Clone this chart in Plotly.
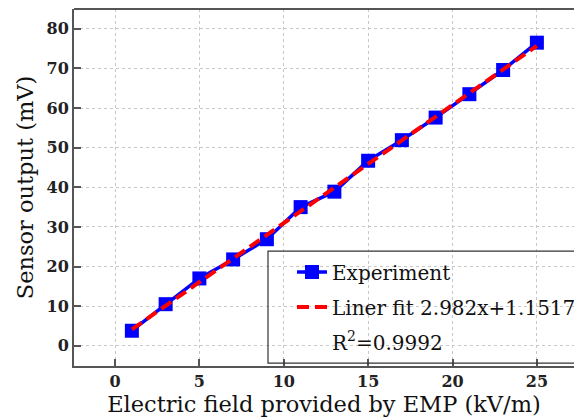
import plotly.graph_objects as go

# Measured sensor response versus applied field
field_kv_m = [1, 3, 5, 7, 9, 11, 13, 15, 17, 19, 21, 23, 25]
sensor_mv = [3.8, 10.5, 17.0, 21.8, 26.9, 35.0, 38.9, 46.7, 51.9, 57.6, 63.5, 69.6, 76.5]

# Linear fit coefficients
fit_slope = 2.982
fit_intercept = 1.1517
fit_x = [1, 25]
fit_y = [fit_slope * v + fit_intercept for v in fit_x]

x_ticks = [0, 5, 10, 15, 20, 25]
y_ticks = [0, 10, 20, 30, 40, 50, 60, 70, 80]

serif = "DejaVu Serif, Liberation Serif, serif"

fig = go.Figure()
fig.add_trace(go.Scatter(
    x=field_kv_m, y=sensor_mv, mode="lines+markers", name="Experiment",
    legendgroup="exp",
    line=dict(color="#0000ff", width=3.5),
    marker=dict(symbol="square", size=14, color="#0000ff"),
))
fig.add_trace(go.Scatter(
    x=fit_x, y=fit_y, mode="lines", name="Liner fit 2.982x+1.1517",
    legendgroup="fit",
    line=dict(color="#ff0000", width=4, dash="12px,6px"),
))
fig.add_trace(go.Scatter(
    x=[None], y=[None], mode="lines", name="R<sup>2</sup>=0.9992",
    legendgroup="r2",
    line=dict(color="rgba(0,0,0,0)", width=0),
))

axis_common = dict(
    showline=True, linecolor="#555555", linewidth=2,
    ticks="inside", ticklen=7, tickwidth=1.5, tickcolor="#555555",
    showgrid=True, gridcolor="#c8c8c8", gridwidth=1, griddash="dot",
    zeroline=False,
    tickfont=dict(family=serif, size=16, color="#222222", weight="bold"),
)

fig.update_layout(
    width=574, height=418,
    margin=dict(l=74, r=0, t=9, b=52, autoexpand=False),
    paper_bgcolor="white", plot_bgcolor="white",
    xaxis=dict(
        range=[-2.43, 27.2], tickvals=x_ticks,
        title=dict(text="Electric field provided by EMP (kV/m)",
                   font=dict(family=serif, size=22.5, color="#111111"), standoff=5),
        **axis_common,
    ),
    yaxis=dict(
        range=[-5.1, 85], tickvals=y_ticks,
        title=dict(text="Sensor output (mV)",
                   font=dict(family=serif, size=22.5, color="#111111"), standoff=7),
        **axis_common,
    ),
    legend=dict(
        x=0.436, y=0.318, xanchor="left", yanchor="top",
        bgcolor="rgba(0,0,0,0)", borderwidth=0,
        font=dict(family=serif, size=20, color="#111111"),
        traceorder="grouped", tracegroupgap=6,
    ),
    showlegend=True,
    shapes=[
        # top frame line
        dict(type="line", xref="paper", yref="paper", x0=0, x1=1, y0=1, y1=1,
             line=dict(color="#555555", width=2)),
        # legend frame
        dict(type="rect", xref="paper", yref="paper", x0=0.388, x1=1.05,
             y0=0.008, y1=0.322, line=dict(color="#333333", width=1.2)),
    ],
)

fig.write_html("out.html")
